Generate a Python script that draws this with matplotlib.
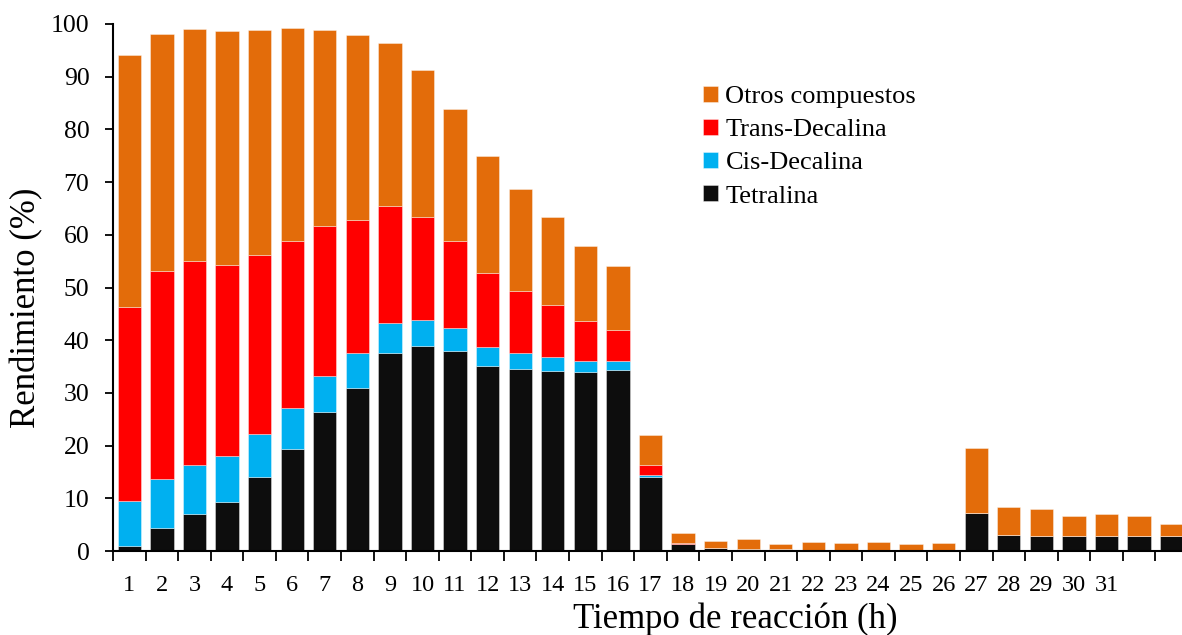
import matplotlib
matplotlib.use("Agg")
import matplotlib.pyplot as plt
import numpy as np

# datos (%)
horas = [str(i) for i in range(1, 32)] + ["", ""]
tetralina = [1.0, 4.4, 7.1, 9.3, 14.1, 19.4, 26.3, 31.0, 37.5, 38.9, 38.0, 35.1, 34.5,
             34.2, 34.0, 34.4, 14.0, 1.4, 0.5, 0.4, 0.3, 0.25, 0.25, 0.25, 0.25, 0.25,
             7.2, 3.0, 2.85, 2.8, 2.85, 2.85, 2.85]
cis_decalina = [8.4, 9.3, 9.3, 8.7, 8.1, 7.8, 7.0, 6.5, 5.7, 4.9, 4.3, 3.6, 3.1,
                2.6, 2.0, 1.6, 0.5, 0.0, 0.0, 0.0, 0.0, 0.0, 0.0, 0.0, 0.0, 0.0,
                0.0, 0.0, 0.0, 0.0, 0.0, 0.0, 0.0]
trans_decalina = [36.9, 39.5, 38.6, 36.3, 33.9, 31.6, 28.4, 25.4, 22.3, 19.5, 16.5, 14.1, 11.7,
                  9.8, 7.7, 5.9, 1.9, 0.1, 0.0, 0.0, 0.0, 0.0, 0.0, 0.0, 0.0, 0.0,
                  0.0, 0.0, 0.0, 0.0, 0.0, 0.0, 0.0]
otros = [47.9, 44.9, 44.0, 44.4, 42.8, 40.4, 37.1, 35.0, 30.8, 28.0, 25.1, 22.1, 19.3,
         16.7, 14.2, 12.2, 5.6, 1.9, 1.4, 1.9, 1.0, 1.45, 1.35, 1.55, 1.1, 1.25,
         12.3, 5.4, 5.05, 3.9, 4.25, 3.75, 2.25]

series = [("Tetralina", tetralina, "#0d0d0d"),
          ("Cis-Decalina", cis_decalina, "#00b0f0"),
          ("Trans-Decalina", trans_decalina, "#ff0000"),
          ("Otros compuestos", otros, "#e36c0a")]

plt.rcParams['font.family'] = ['Liberation Serif', 'DejaVu Serif']

fig = plt.figure(figsize=(11.82, 6.35), dpi=100)
ax = fig.add_axes([113 / 1182, 1 - 551 / 635, 1075 / 1182, 527 / 635])

x = np.arange(len(horas))
bottom = np.zeros(len(horas))
for nombre, vals, color in series:
    vals = np.array(vals)
    ax.bar(x, vals, width=0.715, bottom=bottom, color=color, label=nombre,
           edgecolor=(1, 1, 1, 0.45), linewidth=0.6)
    bottom += vals

ax.set_xlim(-0.5, len(horas) - 0.5)
ax.set_ylim(0, 100)
ax.set_yticks(range(0, 101, 10))
ax.set_xticks(x)
ax.set_xticklabels(horas)
ax.set_xticks(np.arange(-0.5, len(horas), 1), minor=True)
ax.tick_params(axis='x', which='major', length=0, pad=17, labelsize=17.5)
ax.tick_params(axis='x', which='minor', length=7, width=1.3, direction='out')
ax.tick_params(axis='y', length=6, width=1.3, labelsize=18.5, pad=11)

for s in ['top', 'right']:
    ax.spines[s].set_visible(False)
for s in ['left', 'bottom']:
    ax.spines[s].set_linewidth(1.5)

ax.set_ylabel("Rendimiento (%)", fontsize=25)
ax.yaxis.set_label_coords(-0.065, 0.461)
ax.set_xlabel("Tiempo de reacción (h)", fontsize=25)
ax.xaxis.set_label_coords(0.579, -0.098)

h, l = ax.get_legend_handles_labels()
fig.legend(h[::-1], l[::-1], loc='upper left', bbox_to_anchor=(703 / 1182, 1 - 86 / 635),
           frameon=False, fontsize=19, handlelength=0.55, handleheight=0.55,
           handletextpad=0.3, labelspacing=0.41, borderpad=0, borderaxespad=0)

fig.savefig("out.png", dpi=100)
